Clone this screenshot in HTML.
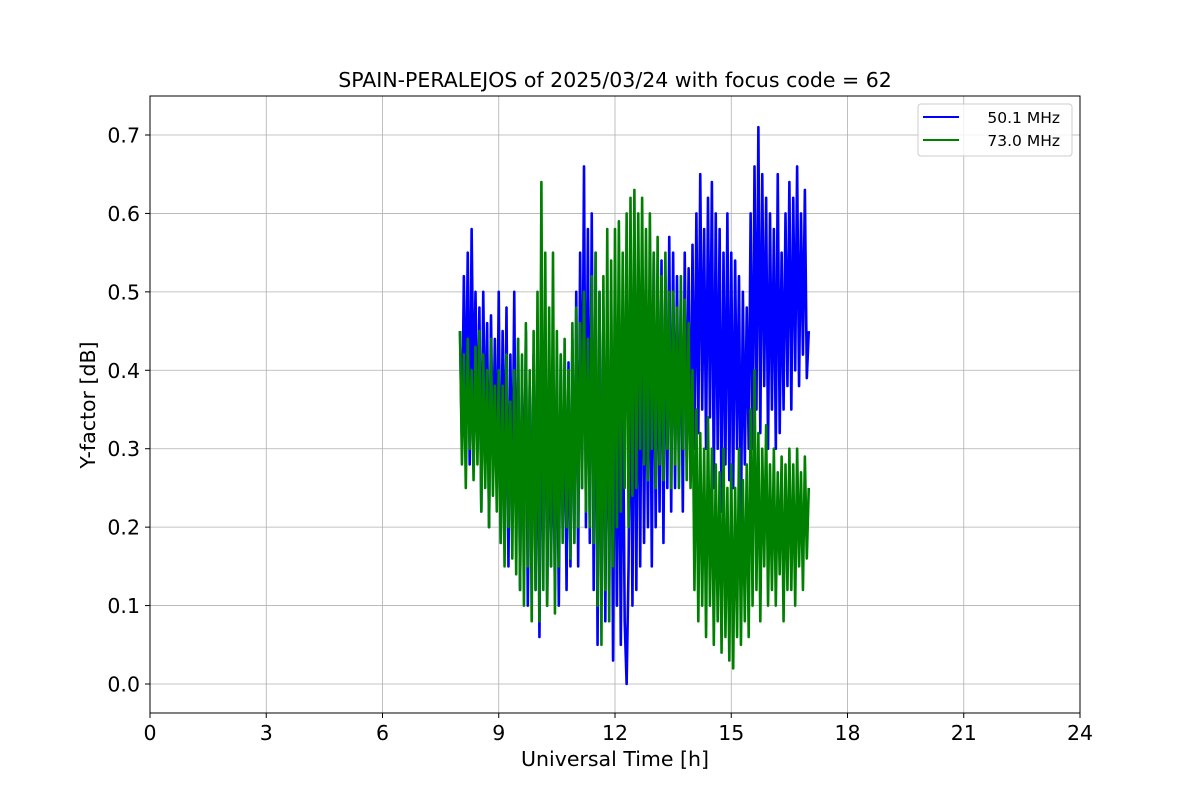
<!DOCTYPE html>
<html><head><meta charset="utf-8"><style>
body{margin:0;background:#fff;}
svg text{font-family:"DejaVu Sans","Liberation Sans",sans-serif;fill:#000;}
</style></head><body>
<svg id="chart" width="1200" height="800" viewBox="0 0 1200 800" xmlns="http://www.w3.org/2000/svg">
<rect width="1200" height="800" fill="#fff"/>
<g id="grid"></g>
<g id="series"></g>
<rect x="150" y="96" width="930" height="617" fill="none" stroke="#000" stroke-width="1"/>
<g id="ticks"></g>
<text x="615" y="87" font-size="20.5" text-anchor="middle">SPAIN-PERALEJOS of 2025/03/24 with focus code = 62</text>
<text x="615" y="766" font-size="20.5" text-anchor="middle">Universal Time [h]</text>
<text x="95" y="405" font-size="20.5" text-anchor="middle" transform="rotate(-90 95 405)">Y-factor [dB]</text>
<g>
<rect x="918" y="104" width="154" height="52" rx="3" fill="#fff" fill-opacity="0.8" stroke="#ccc"/>
<line x1="923" y1="117" x2="959" y2="117" stroke="#0000ff" stroke-width="2"/>
<text x="1060" y="123" font-size="15.5" text-anchor="end">50.1 MHz</text>
<line x1="923" y1="140" x2="959" y2="140" stroke="#008000" stroke-width="2"/>
<text x="1060" y="146" font-size="15.5" text-anchor="end">73.0 MHz</text>
</g>
</svg>
<script>
const xTicks=[0,3,6,9,12,15,18,21,24];
const yTicks=[0.0,0.1,0.2,0.3,0.4,0.5,0.6,0.7];
const tStart=8.0;
const tStep=0.05;
const blue=[.45,.30,.52,.33,.55,.28,.58,.35,.50,.30,
.48,.22,.50,.30,.46,.20,.47,.28,.44,.25,
.50,.18,.45,.25,.48,.15,.42,.22,.50,.18,
.44,.12,.40,.20,.45,.10,.38,.16,.42,.12,
.40,.06,.36,.18,.42,.10,.38,.15,.35,.12,
.40,.10,.42,.20,.38,.12,.41,.15,.44,.18,
.50,.15,.55,.25,.66,.20,.58,.18,.60,.12,
.55,.05,.50,.10,.48,.08,.45,.12,.50,.03,
.45,.10,.42,.05,.40,.08,.00,.15,.45,.10,
.50,.12,.52,.15,.55,.18,.48,.20,.52,.15,
.55,.20,.50,.22,.54,.18,.52,.25,.57,.22,
.55,.25,.52,.28,.50,.22,.55,.30,.53,.26,
.56,.30,.60,.32,.65,.35,.58,.30,.62,.34,
.64,.25,.60,.30,.58,.22,.55,.28,.60,.26,
.55,.25,.54,.30,.52,.20,.50,.28,.48,.30,
.60,.30,.66,.35,.71,.32,.65,.38,.62,.30,
.60,.35,.58,.30,.65,.32,.55,.35,.60,.38,
.64,.35,.62,.40,.66,.38,.60,.42,.63,.39,.45];
const green=[.45,.28,.42,.25,.44,.30,.40,.26,.43,.28,
.45,.22,.42,.25,.40,.20,.44,.24,.38,.22,
.40,.18,.38,.15,.42,.20,.36,.16,.40,.14,
.44,.12,.42,.10,.46,.15,.40,.08,.45,.12,
.50,.08,.64,.12,.55,.10,.48,.15,.55,.09,
.45,.15,.42,.18,.44,.20,.40,.16,.46,.18,
.48,.20,.46,.25,.50,.22,.44,.20,.52,.18,
.55,.10,.50,.05,.52,.12,.58,.08,.54,.15,
.58,.20,.59,.22,.55,.25,.60,.20,.62,.24,
.63,.25,.60,.30,.62,.28,.58,.26,.60,.30,
.55,.25,.57,.28,.52,.26,.55,.30,.50,.25,
.50,.28,.48,.25,.52,.30,.49,.26,.46,.25,
.40,.12,.35,.08,.32,.10,.30,.06,.34,.10,
.30,.05,.28,.08,.27,.04,.30,.06,.25,.03,
.28,.02,.25,.06,.30,.05,.26,.08,.28,.06,
.35,.10,.40,.12,.32,.08,.30,.15,.33,.10,
.28,.12,.30,.10,.27,.14,.29,.08,.28,.12,
.30,.12,.28,.10,.30,.15,.27,.12,.29,.16,.25];
const NS="http://www.w3.org/2000/svg";
const X0=150,X1=1080,Y0px=684,Y7px=135;
function xs(v){return X0+(v/24)*(X1-X0);}
function ys(v){return Y0px-(v/0.7)*(Y0px-Y7px);}
const grid=document.getElementById('grid'),ticks=document.getElementById('ticks'),ser=document.getElementById('series');
function mk(tag,attrs,parent){const e=document.createElementNS(NS,tag);for(const k in attrs)e.setAttribute(k,attrs[k]);parent.appendChild(e);return e;}
xTicks.forEach(t=>{
  const x=xs(t);
  const g=mk('line',{x1:x,x2:x,y1:96,y2:713,stroke:'#b0b0b0','stroke-width':0.8},grid);
  
  
  const tk=mk('line',{x1:x,x2:x,y1:713,y2:718,stroke:'#000'},ticks);
  
  
  const lb=mk('text',{x:x,y:740,'font-size':20.5,'text-anchor':'middle'},ticks);
  lb.textContent=t;
  
  
});
yTicks.forEach(t=>{
  const y=ys(t);
  const g=mk('line',{x1:150,x2:1080,y1:y,y2:y,stroke:'#b0b0b0','stroke-width':0.8},grid);
  
  
  const tk=mk('line',{x1:145,x2:150,y1:y,y2:y,stroke:'#000'},ticks);
  
  
  const lb=mk('text',{x:140,y:y+7.5,'font-size':20.5,'text-anchor':'end'},ticks);
  lb.textContent=t.toFixed(1);
  
  
});
function line(vals,color,name){
  const d=vals.map((v,i)=>(i?'L':'M')+xs(tStart+i*tStep).toFixed(2)+','+ys(v).toFixed(2)).join('');
  const p=mk('path',{d:d,fill:'none',stroke:color,'stroke-width':2.6,'stroke-linejoin':'round'},ser);
  
  
}
line(blue,'#0000ff','series-50mhz-line');
line(green,'#008000','series-73mhz-line');
</script>
</body></html>
